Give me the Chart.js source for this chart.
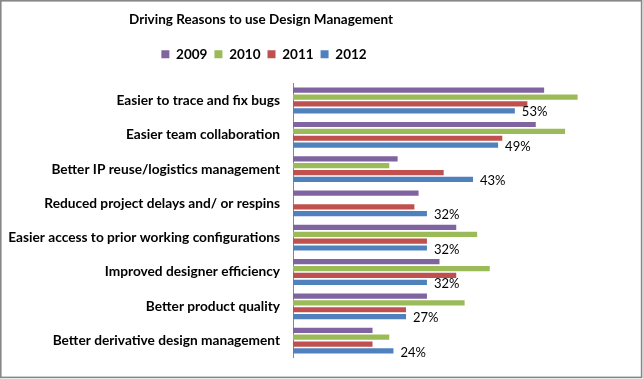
<!DOCTYPE html>
<html>
<head>
<meta charset="utf-8">
<script src="https://cdn.jsdelivr.net/npm/chart.js@4.4.0/dist/chart.umd.min.js"></script>
<style>
  html, body { margin: 0; padding: 0; background: #ffffff; }
  #wrap { width: 643px; height: 379px; }
</style>
</head>
<body>
<div id="wrap"><canvas id="c" width="643" height="379"></canvas></div>
<script>
// ---- data ----
const categories = [
  'Easier to trace and fix bugs',
  'Easier team collaboration',
  'Better IP reuse/logistics management',
  'Reduced project delays and/ or respins',
  'Easier access to prior working configurations',
  'Improved designer efficiency',
  'Better product quality',
  'Better derivative design management'
];
const seriesNames = ['2009', '2010', '2011', '2012'];
const values2009 = [60, 58, 25, 30, 39, 35, 32, 19];
const values2010 = [68, 65, 23, null, 44, 47, 41, 23];
const values2011 = [56, 50, 36, 29, 32, 39, 27, 19];
const values2012 = [53, 49, 43, 32, 32, 32, 27, 24];
const chartTitle = 'Driving Reasons to use Design Management';

// ---- styles ----
const FONT = 'Lato, "Open Sans", sans-serif';
const seriesColors = ['#8064A2', '#9BBB59', '#C0504D', '#4F81BD'];
const allValues = [values2009, values2010, values2011, values2012];

const TOP_SHIFT = 12.25;

const framePlugin = {
  id: 'frame',
  beforeDraw(chart) {
    const ctx = chart.ctx;
    ctx.save();
    ctx.fillStyle = '#ffffff';
    ctx.fillRect(0, 0, chart.width, chart.height);
    ctx.restore();
  },
  afterDraw(chart) {
    const ctx = chart.ctx;
    ctx.save();
    ctx.strokeStyle = '#878787';
    ctx.lineWidth = 1.6;
    ctx.strokeRect(0.8, 0.8, chart.width - 2.2, chart.height - 2.4);
    ctx.restore();
  }
};

const headerPlugin = {
  id: 'header',
  afterLayout(chart) {
    const t = chart.titleBlock;
    if (t) {
      t.top -= TOP_SHIFT; t.bottom -= TOP_SHIFT;
      t.left = 0; t.right = 522; t.width = 522;
    }
    const l = chart.legend;
    if (l) {
      l.top -= TOP_SHIFT; l.bottom -= TOP_SHIFT;
      l.left = 0; l.right = 528; l.width = 528;
    }
  }
};

const valueLabelPlugin = {
  id: 'valueLabels',
  afterDatasetsDraw(chart) {
    const ctx = chart.ctx;
    const meta = chart.getDatasetMeta(3);
    ctx.save();
    ctx.font = '13px ' + FONT;
    ctx.fillStyle = '#000000';
    ctx.textAlign = 'left';
    ctx.textBaseline = 'middle';
    meta.data.forEach((bar, i) => {
      const v = values2012[i];
      if (v == null) return;
      ctx.fillText(v + '%', bar.x + 7, bar.y + 1.5);
    });
    ctx.restore();
  }
};

new Chart(document.getElementById('c'), {
  type: 'bar',
  data: {
    labels: categories,
    datasets: seriesNames.map((name, i) => ({
      label: name,
      data: allValues[i],
      backgroundColor: seriesColors[i],
      borderWidth: 0,
      categoryPercentage: 0.8,
      barPercentage: 0.76
    }))
  },
  options: {
    indexAxis: 'y',
    responsive: false,
    animation: false,
    devicePixelRatio: 1,
    layout: { padding: { top: TOP_SHIFT, bottom: 16, left: 0, right: 57 } },
    plugins: {
      title: {
        display: true,
        text: chartTitle,
        color: '#000000',
        font: { family: FONT, size: 13.5, weight: 'bold' },
        padding: { top: 12, bottom: 12.4 }
      },
      legend: {
        display: true,
        position: 'top',
        labels: {
          boxWidth: 8,
          boxHeight: 8,
          padding: 7,
          color: '#000000',
          font: { family: FONT, size: 13.5, weight: 'bold' }
        }
      },
      tooltip: { enabled: false }
    },
    scales: {
      x: {
        display: false,
        min: 0,
        max: 70
      },
      y: {
        afterFit(scale) { scale.width = 293; },
        grid: { display: false, drawTicks: false },
        border: { display: true, color: '#868686', width: 1 },
        ticks: {
          padding: 13,
          color: '#000000',
          font: { family: FONT, size: 13.7, weight: 'bold' },
          autoSkip: false
        }
      }
    }
  },
  plugins: [framePlugin, headerPlugin, valueLabelPlugin]
});
</script>
</body>
</html>
